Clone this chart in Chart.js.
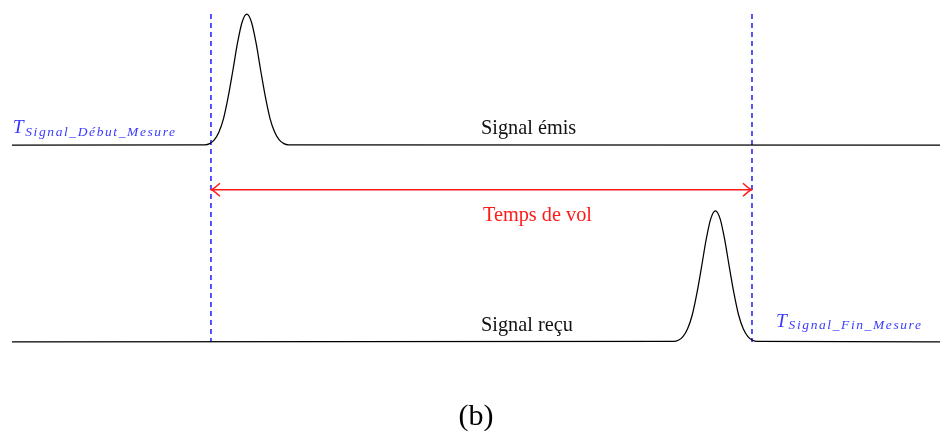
<!DOCTYPE html>
<html>
<head>
<meta charset="utf-8">
<script src="https://cdn.jsdelivr.net/npm/chart.js@4.4.0/dist/chart.umd.min.js"></script>
<style>
    body { margin: 0; background: #fff; }
    #wrap { position: relative; width: 940px; height: 435px; }
</style>
</head>
<body>
<div id="wrap"><canvas id="chart"></canvas></div>
<script>
// time axis (arbitrary units, 0..100), amplitude in pulse heights
const emisTime  = [0, 20.8, 21.3, 21.8, 22.3, 22.8, 23.3, 23.8, 24.3, 24.8, 25.3, 25.8, 26.3, 26.8, 27.3, 27.8, 28.3, 28.8, 29.3, 29.8, 100];
const emisLevel = [1.5, 1.503, 1.512, 1.540, 1.600, 1.705, 1.87, 2.07, 2.28, 2.44, 2.5, 2.44, 2.28, 2.07, 1.87, 1.705, 1.600, 1.540, 1.512, 1.503, 1.5];

const recuTime  = [0, 71.3, 71.8, 72.3, 72.8, 73.3, 73.8, 74.3, 74.8, 75.3, 75.8, 76.3, 76.8, 77.3, 77.8, 78.3, 78.8, 79.3, 79.8, 80.3, 100];
const recuLevel = [0, 0.003, 0.012, 0.040, 0.100, 0.205, 0.37, 0.57, 0.78, 0.94, 1, 0.94, 0.78, 0.57, 0.37, 0.205, 0.100, 0.040, 0.012, 0.003, 0];

const tStart = 21.44;   // début mesure
const tEnd = 79.74;     // fin mesure
const markerTop = 2.5;
const arrowLevel = 1.16;

const toPoints = (xs, ys) => xs.map((x, i) => ({ x, y: ys[i] }));

// text labels, anchored in data units (left / baseline)
const texts = [
    { text: 'Signal émis', x: 50.54, y: 1.588, color: '#111' },
    { text: 'Temps de vol', x: 50.75, y: 0.924, color: '#ff1a1a' },
    { text: 'Signal reçu', x: 50.54, y: 0.084, color: '#111' },
];
const tLabels = [
    { sub: 'Signal_Début_Mesure', x: 0.07, y: 1.593 },
    { sub: 'Signal_Fin_Mesure', x: 82.33, y: 0.117 },
];

const annotations = {
    id: 'annotations',
    afterDatasetsDraw(chart) {
        const { ctx, scales: { x, y } } = chart;
        ctx.save();
        // arrow heads
        ctx.strokeStyle = '#ff1a1a';
        ctx.lineWidth = 1.5;
        const ay = y.getPixelForValue(arrowLevel);
        const x1 = x.getPixelForValue(tStart), x2 = x.getPixelForValue(tEnd);
        ctx.beginPath();
        ctx.moveTo(x1 + 9, ay - 6.5); ctx.quadraticCurveTo(x1 + 3, ay - 1, x1 + 0.5, ay); ctx.quadraticCurveTo(x1 + 3, ay + 1, x1 + 9, ay + 6.5);
        ctx.moveTo(x2 - 9, ay - 6.5); ctx.quadraticCurveTo(x2 - 3, ay - 1, x2 - 0.5, ay); ctx.quadraticCurveTo(x2 - 3, ay + 1, x2 - 9, ay + 6.5);
        ctx.stroke();

        ctx.textBaseline = 'alphabetic';
        ctx.textAlign = 'left';
        texts.forEach(t => {
            ctx.font = '20.3px "Liberation Serif"';
            ctx.fillStyle = t.color;
            ctx.fillText(t.text, x.getPixelForValue(t.x), y.getPixelForValue(t.y));
        });

        tLabels.forEach(t => {
            const px = x.getPixelForValue(t.x), py = y.getPixelForValue(t.y);
            ctx.fillStyle = '#3a3aff';
            ctx.font = 'italic 19.5px "Liberation Serif"';
            ctx.fillText('T', px, py);
            ctx.font = 'italic 13.5px "Liberation Serif"';
            ctx.letterSpacing = '1.6px';
            ctx.fillText(t.sub, px + 12.6, py + 2.5);
            ctx.letterSpacing = '0px';
        });
        ctx.restore();
    }
};

const lineStyle = { borderWidth: 1.25, pointRadius: 0, fill: false };
const markerStyle = { borderColor: '#2b2bff', borderDash: [5, 4], borderWidth: 1.6, pointRadius: 0, fill: false };

new Chart(document.getElementById('chart'), {
    type: 'line',
    data: {
        datasets: [
            { data: toPoints(emisTime, emisLevel), borderColor: '#000', cubicInterpolationMode: 'monotone', ...lineStyle },
            { data: toPoints(recuTime, recuLevel), borderColor: '#000', cubicInterpolationMode: 'monotone', ...lineStyle },
            { data: [{ x: tStart, y: markerTop }, { x: tStart, y: 0 }], ...markerStyle },
            { data: [{ x: tEnd, y: markerTop }, { x: tEnd, y: 0 }], ...markerStyle },
            { data: [{ x: tStart, y: arrowLevel }, { x: tEnd, y: arrowLevel }], borderColor: '#ff1a1a', ...lineStyle, borderWidth: 1.5 },
        ]
    },
    options: {
        responsive: true,
        maintainAspectRatio: false,
        animation: false,
        layout: { padding: { left: 12, right: 0, top: 1, bottom: 0 } },
        scales: {
            x: { type: 'linear', min: 0, max: 100, display: false },
            y: { min: -0.1, max: 2.6, display: false },
        },
        plugins: {
            legend: { display: false },
            tooltip: { enabled: false },
            title: {
                display: true,
                position: 'bottom',
                text: '(b)',
                color: '#000',
                font: { family: 'Liberation Serif', size: 30, weight: 'normal' },
                padding: { top: 44, bottom: 0 },
            },
        },
    },
    plugins: [annotations],
});
</script>
</body>
</html>
